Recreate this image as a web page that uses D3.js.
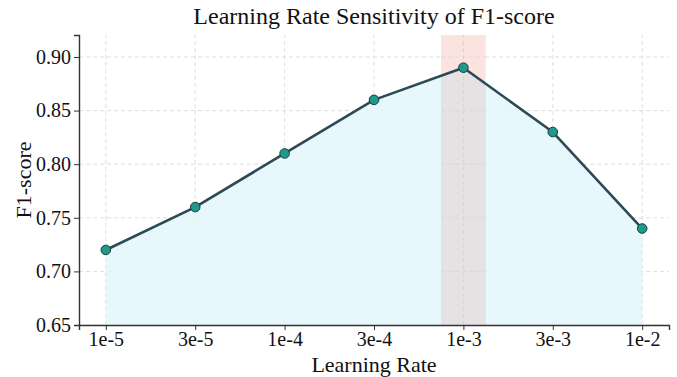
<!DOCTYPE html>
<html><head><meta charset="utf-8">
<script src="https://cdn.jsdelivr.net/npm/d3@7"></script>
<style>body{margin:0;background:#fff}svg{display:block}</style>
</head><body>
<svg id="c" width="677" height="377"></svg>
<script>
const categories = ["1e-5","3e-5","1e-4","3e-4","1e-3","3e-3","1e-2"];
const f1Values = [0.72, 0.76, 0.81, 0.86, 0.89, 0.83, 0.74];
const yTicks = [0.65, 0.70, 0.75, 0.80, 0.85, 0.90];
const highlightCategory = "1e-3";

const W = 677, H = 377;
const m = {l: 79, r: 8, t: 35, b: 52};
const svg = d3.select("#c");
const font = "'Liberation Serif','Times New Roman',serif";

const x = d3.scaleLinear().domain([-0.3, categories.length - 0.7]).range([m.l, W - m.r]);
const y = d3.scaleLinear().domain([0.65, 0.9205]).range([H - m.b, m.t]);
const idx = categories.map((c, i) => i);

// grid
const g = svg.append("g");
g.selectAll(".vg").data(idx).join("line")
  .attr("x1", d => x(d)).attr("x2", d => x(d)).attr("y1", y.range()[0]).attr("y2", y.range()[1])
  .attr("stroke", "#d5d5d5").attr("stroke-dasharray", "4,3").attr("stroke-width", 0.8);
g.selectAll(".hg").data(yTicks).join("line")
  .attr("x1", m.l).attr("x2", W - m.r).attr("y1", d => y(d)).attr("y2", d => y(d))
  .attr("stroke", "#d5d5d5").attr("stroke-dasharray", "4,3").attr("stroke-width", 0.8);

// fill
const area = d3.area().x((d, i) => x(i)).y0(y(0.65)).y1(d => y(d));
svg.append("path").datum(f1Values).attr("d", area).attr("fill", "#e6f6fc").attr("fill-opacity", 0.9);

// highlight band
const hi = categories.indexOf(highlightCategory);
svg.append("defs").append("clipPath").attr("id", "ac").append("path").datum(f1Values).attr("d", area);
svg.append("rect").attr("x", x(hi - 0.25)).attr("width", x(hi + 0.25) - x(hi - 0.25))
  .attr("y", y.range()[1]).attr("height", y.range()[0] - y.range()[1]).attr("fill", "#fbe4e0");
svg.append("rect").attr("clip-path", "url(#ac)").attr("x", x(hi - 0.25)).attr("width", x(hi + 0.25) - x(hi - 0.25))
  .attr("y", y.range()[1]).attr("height", y.range()[0] - y.range()[1]).attr("fill", "#e5e2e4");
svg.append("line").attr("x1", x(hi)).attr("x2", x(hi)).attr("y1", y.range()[0]).attr("y2", y.range()[1])
  .attr("stroke", "#d0d0d0").attr("stroke-dasharray", "4,3").attr("stroke-width", 0.8);
svg.selectAll(".hg2").data(yTicks).join("line")
  .attr("x1", x(hi - 0.25)).attr("x2", x(hi + 0.25)).attr("y1", d => y(d)).attr("y2", d => y(d))
  .attr("stroke", "#d5d5d5").attr("stroke-dasharray", "4,3").attr("stroke-width", 0.8);

// line
svg.append("path").datum(f1Values)
  .attr("d", d3.line().x((d, i) => x(i)).y(d => y(d)))
  .attr("fill", "none").attr("stroke", "#2c4a55").attr("stroke-width", 2.6).attr("stroke-linejoin", "round");
svg.selectAll(".pt").data(f1Values).join("circle")
  .attr("cx", (d, i) => x(i)).attr("cy", d => y(d)).attr("r", 4.8)
  .attr("fill", "#1f9a8a").attr("stroke", "#1c3b3f").attr("stroke-width", 1);

// axes
const ax = svg.append("g").attr("transform", `translate(0,${H - m.b})`)
  .call(d3.axisBottom(x).tickValues(idx).tickFormat(i => categories[i]).tickSize(5).tickPadding(2));
ax.attr("font-family", null).attr("font-size", null);
ax.select(".domain").attr("stroke", "#333").attr("stroke-width", 1.4);
ax.selectAll(".tick line").attr("stroke", "#333");
ax.selectAll(".tick text").style("font-family", font).style("font-size", "20px").attr("fill", "#111").attr("dy", "0.72em");

const ay = svg.append("g").attr("transform", `translate(${m.l},0)`)
  .call(d3.axisLeft(y).tickValues(yTicks).tickFormat(d3.format(".2f")).tickSize(5).tickPadding(3));
ay.attr("font-family", null).attr("font-size", null);
ay.select(".domain").attr("stroke", "#333").attr("stroke-width", 1.4);
ay.selectAll(".tick line").attr("stroke", "#333");
ay.selectAll(".tick text").style("font-family", font).style("font-size", "20px").attr("fill", "#111");

// titles
svg.append("text").attr("x", (m.l + W - m.r) / 2).attr("y", 24).attr("text-anchor", "middle")
  .style("font-family", font).style("font-size", "24px").attr("fill", "#111").text("Learning Rate Sensitivity of F1-score");
svg.append("text").attr("x", (m.l + W - m.r) / 2).attr("y", 372).attr("text-anchor", "middle")
  .style("font-family", font).style("font-size", "22px").attr("fill", "#111").text("Learning Rate");
svg.append("text").attr("transform", `translate(31,${(m.t + H - m.b) / 2}) rotate(-90)`).attr("text-anchor", "middle")
  .style("font-family", font).style("font-size", "22px").attr("fill", "#111").text("F1-score");
</script>
</body></html>
